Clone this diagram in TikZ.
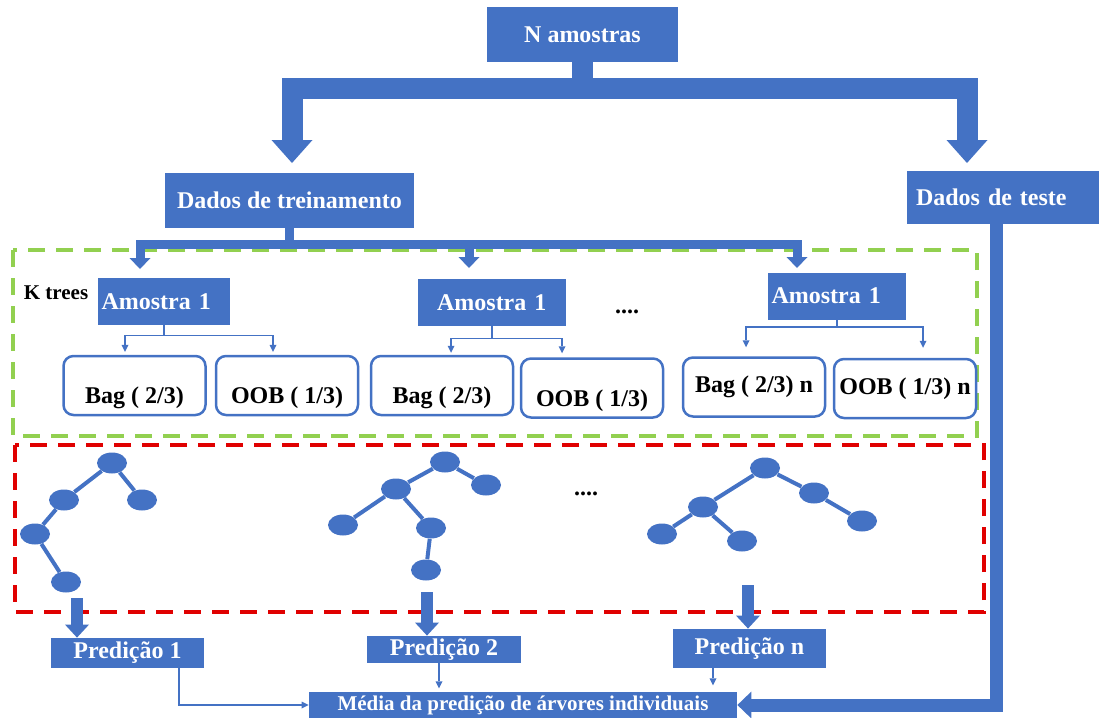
\documentclass[tikz,border=0pt]{standalone}
\usepackage{fontspec}
\setmainfont{Liberation Serif}
\tikzset{>=stealth}
\usetikzlibrary{arrows.meta}
\usetikzlibrary{shapes.geometric,positioning}
\definecolor{boxblue}{HTML}{4472C4}
\definecolor{kgreen}{HTML}{92D050}
\definecolor{kred}{HTML}{E00000}
\tikzset{
  bluebox/.style={fill=boxblue, text=white, inner sep=1pt, font=\fontsize{12}{14}\selectfont\bfseries},
  amobox/.style={bluebox, minimum height=23.5pt, inner xsep=2pt},
  bagbox/.style={draw=boxblue, line width=1.25pt, rounded corners=5pt, fill=white, inner xsep=2pt,
    minimum width=71pt, minimum height=29.5pt, font=\fontsize{12}{14}\selectfont\bfseries},
  lowtext/.style={text height=18pt, text depth=0pt},
  leaf/.style={ellipse, fill=boxblue, minimum width=15pt, minimum height=10.5pt, inner sep=0pt},
  branch/.style={draw=boxblue, line width=2pt},
  dashbox/.style={line width=2pt, dash pattern=on 8.5pt off 5.5pt},
  bigarrow/.style={draw=boxblue, line width=10.5pt, -{Triangle[width=20.5pt,length=11.5pt,line width=0pt]}},
  midarrow/.style={draw=boxblue, line width=4.5pt, -{Triangle[width=10.5pt,length=5.5pt,line width=0pt]}},
  predarrow/.style={draw=boxblue, line width=6pt, -{Triangle[width=12pt,length=6.5pt,line width=0pt]}},
  testarrow/.style={draw=boxblue, line width=6.5pt, -{Triangle[width=13.5pt,length=7pt,line width=0pt]}},
  thinarrow/.style={draw=boxblue, line width=0.75pt, -{Triangle[width=3.5pt,length=3.5pt,line width=0pt]}},
}

\begin{document}
\begin{tikzpicture}[x=0.5pt,y=-0.5pt]
\useasboundingbox (0,0) rectangle (1099,718);
% dashed frames
\draw[kgreen, dashbox] (13,250) rectangle (977,436);
\draw[kred, dashbox] (15,445) rectangle (984,612);
% top level
\node[bluebox, minimum width=95.5pt, minimum height=27.5pt] (N) at (582.5,34.5) {N amostras};
\node[bluebox, minimum width=124.5pt, minimum height=27.5pt] (train) at (289.5,200.5) {Dados de treinamento};
\node[bluebox, text width=87pt, inner xsep=4.5pt, minimum height=26.5pt, align=left] (teste) at (1003,197.5) {Dados de teste};
\coordinate (fork) at (582.5,88.5);
\coordinate (trtip) at (292,163);
\coordinate (tetip) at (967,163);
\draw[bigarrow] (N.south) -- (fork) -| (trtip);
\draw[bigarrow] (N.south) -- (fork) -| (tetip);
% samples
\node[font=\fontsize{10.5}{12}\selectfont\bfseries] (ktrees) at (56,293) {K trees};
\node[amobox, text width=62.25pt, align=left] (amo1) at (163.75,301.5) {Amostra 1};
\node[amobox, text width=70.25pt, align=center] (amo2) at (491.75,302.5) {Amostra 1};
\node[amobox, text width=65.25pt, align=left] (amo3) at (836.75,296) {Amostra 1};
\node[font=\fontsize{12}{14}\selectfont\bfseries] (dots1) at (627,312) {....};
\coordinate (hub) at (288,244.5);
\coordinate (k1) at (140,269);
\coordinate (k2) at (469,268);
\coordinate (k3) at (797,268);
\foreach \k in {k1,k2,k3}
  \draw[midarrow] (train.south) -- (train.south |- hub) -| (\k);
% bag / oob
\node[bagbox, lowtext] (bag1) at (134.5,385.5) {Bag ( 2/3)};
\node[bagbox, lowtext] (oob1) at (287,385.5) {OOB ( 1/3)};
\node[bagbox, lowtext] (bag2) at (442,385.5) {Bag ( 2/3)};
\node[bagbox, lowtext] (oob2) at (592,388) {OOB ( 1/3)};
\node[bagbox] (bag3) at (754,387) {Bag ( 2/3) n};
\node[bagbox] (oob3) at (905,388.5) {OOB ( 1/3) n};
\draw[thinarrow, shorten >=1.5pt] (amo1.south) -- ++(0,10) -| ([xshift=-4.75pt]bag1.north);
\draw[thinarrow, shorten >=1.5pt] (amo1.south) -- ++(0,10) -| ([xshift=-7pt]oob1.north);
\draw[thinarrow, shorten >=1pt] (amo2.south) -- ++(0,12) -| ([xshift=4.5pt]bag2.north);
\draw[thinarrow, shorten >=2pt] (amo2.south) -- ++(0,12) -| ([xshift=-15pt]oob2.north);
\draw[thinarrow, shorten >=4.5pt] (amo3.south) -- ++(0,7) -| ([xshift=-4pt]bag3.north);
\draw[thinarrow, shorten >=5pt] (amo3.south) -- ++(0,7) -| ([xshift=9pt]oob3.north);
% trees
\foreach \n/\p in {t1a/{112,463}, t1b/{64,500}, t1c/{142,500}, t1d/{35,534}, t1e/{66,582},
    t2a/{445,462}, t2b/{396,489}, t2c/{486,485}, t2d/{343,525}, t2e/{431,528}, t2f/{426,570},
    t3a/{765,468}, t3b/{814,493}, t3c/{862,521}, t3d/{703,507}, t3e/{662,534}, t3f/{742,541}}
  \node[leaf] (\n) at (\p) {};
\foreach \a/\b in {t1a/t1b, t1a/t1c, t1b/t1d, t1d/t1e,
    t2a/t2b, t2a/t2c, t2b/t2d, t2b/t2e, t2e/t2f,
    t3a/t3b, t3b/t3c, t3a/t3d, t3d/t3e, t3d/t3f}
  \draw[branch] (\a) -- (\b);
\node[font=\fontsize{12}{14}\selectfont\bfseries] (dots2) at (586,494) {....};
% predictions
\node[bluebox, minimum width=76.5pt, minimum height=15pt] (p1) at (127.5,653) {Predição 1};
\node[bluebox, minimum width=77pt, minimum height=13.5pt] (p2) at (444,649.5) {Predição 2};
\node[bluebox, minimum width=76.5pt, minimum height=19.5pt] (p3) at (749.5,648.5) {Predição n};
\coordinate (s1) at (77,598);
\coordinate (s2) at (427,592);
\coordinate (s3) at (748,585);
\draw[predarrow] (s1) -- (s1 |- p1.north);
\draw[predarrow] (s2) -- (s2 |- p2.north);
\draw[predarrow] (s3) -- (s3 |- p3.north);
\node[bluebox, font=\fontsize{10.5}{12}\selectfont\bfseries, minimum width=214pt, minimum height=13pt] (media) at (523,705) {Média da predição de árvores individuais};
\draw[thinarrow] ([xshift=25.75pt]p1.south) |- (media.west);
\draw[thinarrow] ([xshift=-2.5pt]p2.south) -- ++(0,25);
\draw[thinarrow] ([xshift=-18.25pt]p3.south) -- ++(0,17);
\draw[testarrow] ([xshift=-3.5pt]teste.south) |- (media.east);
\end{tikzpicture}
\end{document}
